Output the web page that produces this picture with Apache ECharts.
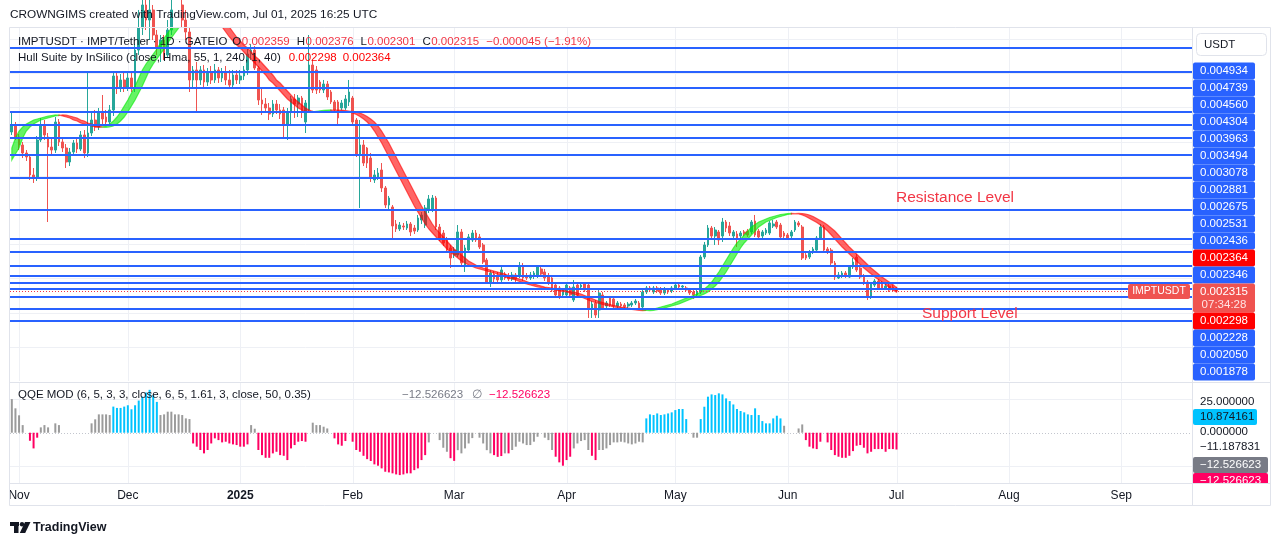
<!DOCTYPE html>
<html>
<head>
<meta charset="utf-8">
<title>IMPTUSDT · 1D · GATEIO</title>
<script src="https://cdn.jsdelivr.net/npm/echarts@6/dist/echarts.min.js"></script>
<style>
  html, body { margin: 0; padding: 0; background: #ffffff; }
  #chart { width: 1281px; height: 546px; }
</style>
</head>
<body>
<div id="chart"></div>
<script>
// daily categories from Oct 30 2024 to Sep 20 2025 (the time scale runs past the last candle)
const firstDay = Date.UTC(2024, 9, 30);
const dates = [];
for (let k = 0; k < 326; k++) {
  dates.push(new Date(firstDay + k * 86400000).toISOString().slice(0, 10));
}
const monthTicks = ['2024-11-01', '2024-12-01', '2025-01-01', '2025-02-01', '2025-03-01', '2025-04-01',
  '2025-05-01', '2025-06-01', '2025-07-01', '2025-08-01', '2025-09-01'];
const monthLabels = ['Nov', 'Dec', '2025', 'Feb', 'Mar', 'Apr', 'May', 'Jun', 'Jul', 'Aug', 'Sep'];

// IMPTUSDT daily candles, Oct 30 2024 .. Jul 01 2025
const opens = [
  0.004641, 0.004729, 0.004568, 0.004451, 0.004334, 0.004275, 0.004012, 0.003968, 0.004524, 0.004743,
  0.004568, 0.004421, 0.004377, 0.004787, 0.004495, 0.004407, 0.004202, 0.004348, 0.004480, 0.004392,
  0.004597, 0.004334, 0.004626, 0.004816, 0.004714, 0.004919, 0.004860, 0.004787, 0.004963, 0.005460,
  0.005285, 0.005402, 0.005299, 0.005431, 0.005285, 0.005840, 0.006162, 0.006499, 0.006279, 0.006426,
  0.006060, 0.005870, 0.005987, 0.005767, 0.006133, 0.006426, 0.006353, 0.006499, 0.006279, 0.006104,
  0.005402, 0.005548, 0.005402, 0.005548, 0.005372, 0.005519, 0.005402, 0.005548, 0.005431, 0.005519,
  0.005402, 0.005328, 0.005475, 0.005402, 0.005460, 0.005548, 0.005782, 0.005840, 0.005577, 0.005109,
  0.005050, 0.004992, 0.004904, 0.005050, 0.004963, 0.004963, 0.004758, 0.004933, 0.005124, 0.005050,
  0.005138, 0.004787, 0.004963, 0.005621, 0.005548, 0.005372, 0.005255, 0.005343, 0.005226, 0.005080,
  0.005080, 0.004992, 0.004992, 0.005080, 0.005138, 0.004816, 0.004304, 0.004451, 0.004407, 0.004260,
  0.003939, 0.003968, 0.004085, 0.003822, 0.003573, 0.003544, 0.003295, 0.003222, 0.003266, 0.003236,
  0.003295, 0.003236, 0.003207, 0.003353, 0.003280, 0.003500, 0.003514, 0.003675, 0.003251, 0.003163,
  0.003061, 0.002944, 0.002841, 0.002841, 0.003178, 0.002695, 0.002914, 0.003061, 0.003163, 0.003105,
  0.002988, 0.002768, 0.002446, 0.002563, 0.002549, 0.002476, 0.002563, 0.002534, 0.002490, 0.002549,
  0.002534, 0.002680, 0.002534, 0.002505, 0.002534, 0.002534, 0.002637, 0.002593, 0.002534, 0.002505,
  0.002402, 0.002359, 0.002256, 0.002256, 0.002359, 0.002183, 0.002402, 0.002373, 0.002417, 0.002402,
  0.002066, 0.002139, 0.002037, 0.002256, 0.002095, 0.002212, 0.002198, 0.002095, 0.002124, 0.002110,
  0.002095, 0.002110, 0.002139, 0.002139, 0.002081, 0.002300, 0.002359, 0.002300, 0.002359, 0.002344,
  0.002285, 0.002329, 0.002315, 0.002359, 0.002402, 0.002373, 0.002359, 0.002329, 0.002300, 0.002256,
  0.002300, 0.002812, 0.002988, 0.003236, 0.003119, 0.003178, 0.003119, 0.003324, 0.003266, 0.003119,
  0.003149, 0.003119, 0.003178, 0.003192, 0.003178, 0.003339, 0.003192, 0.003119, 0.003163, 0.003163,
  0.003266, 0.003324, 0.003280, 0.003163, 0.003134, 0.003119, 0.003207, 0.003310, 0.003251, 0.002841,
  0.002812, 0.002885, 0.002914, 0.003090, 0.003251, 0.002929, 0.002914, 0.002724, 0.002505, 0.002534,
  0.002578, 0.002519, 0.002666, 0.002812, 0.002651, 0.002534, 0.002446, 0.002227, 0.002402, 0.002461,
  0.002432, 0.002359, 0.002388, 0.002373, 0.002359
];
const closes = [
  0.004743, 0.004568, 0.004451, 0.004334, 0.004275, 0.004012, 0.003968, 0.004524, 0.004743, 0.004597,
  0.004421, 0.004377, 0.004787, 0.004495, 0.004407, 0.004202, 0.004348, 0.004480, 0.004392, 0.004597,
  0.004334, 0.004626, 0.004816, 0.004714, 0.004919, 0.004831, 0.004787, 0.004963, 0.005460, 0.005285,
  0.005402, 0.005299, 0.005431, 0.005285, 0.005840, 0.006162, 0.006499, 0.006279, 0.006426, 0.006060,
  0.005870, 0.005987, 0.005767, 0.006133, 0.006426, 0.006353, 0.006499, 0.006279, 0.006104, 0.005402,
  0.005548, 0.005402, 0.005548, 0.005372, 0.005519, 0.005402, 0.005548, 0.005431, 0.005519, 0.005402,
  0.005328, 0.005475, 0.005402, 0.005460, 0.005548, 0.005782, 0.005840, 0.005577, 0.005109, 0.005050,
  0.004992, 0.004904, 0.005050, 0.004963, 0.004904, 0.004758, 0.004933, 0.005124, 0.005050, 0.005138,
  0.004933, 0.005065, 0.005621, 0.005255, 0.005255, 0.005255, 0.005343, 0.005153, 0.005080, 0.004963,
  0.004846, 0.005065, 0.005124, 0.005226, 0.004787, 0.004304, 0.004451, 0.004187, 0.004187, 0.003968,
  0.004012, 0.004041, 0.003822, 0.003573, 0.003675, 0.003266, 0.003222, 0.003280, 0.003251, 0.003295,
  0.003178, 0.003192, 0.003383, 0.003427, 0.003529, 0.003661, 0.003675, 0.003251, 0.003090, 0.003017,
  0.002914, 0.002797, 0.002914, 0.003178, 0.002724, 0.002944, 0.003105, 0.003163, 0.003061, 0.002958,
  0.002739, 0.002446, 0.002578, 0.002490, 0.002476, 0.002622, 0.002505, 0.002490, 0.002549, 0.002490,
  0.002680, 0.002505, 0.002505, 0.002549, 0.002578, 0.002666, 0.002563, 0.002505, 0.002432, 0.002329,
  0.002256, 0.002227, 0.002329, 0.002402, 0.002256, 0.002373, 0.002256, 0.002402, 0.002329, 0.002066,
  0.002124, 0.001964, 0.002285, 0.002066, 0.002139, 0.002110, 0.002095, 0.002139, 0.002095, 0.002081,
  0.002124, 0.002139, 0.002168, 0.002066, 0.002300, 0.002359, 0.002329, 0.002359, 0.002315, 0.002285,
  0.002344, 0.002300, 0.002359, 0.002402, 0.002373, 0.002388, 0.002329, 0.002285, 0.002256, 0.002300,
  0.002812, 0.002988, 0.003236, 0.003119, 0.003207, 0.003061, 0.003324, 0.003236, 0.003163, 0.003178,
  0.003090, 0.003163, 0.003149, 0.003134, 0.003324, 0.003134, 0.003105, 0.003178, 0.003207, 0.003310,
  0.003295, 0.003251, 0.003105, 0.003119, 0.003090, 0.003178, 0.003324, 0.003280, 0.002797, 0.002797,
  0.002885, 0.002929, 0.003090, 0.003251, 0.002914, 0.002885, 0.002724, 0.002519, 0.002549, 0.002578,
  0.002534, 0.002666, 0.002739, 0.002622, 0.002519, 0.002432, 0.002227, 0.002417, 0.002461, 0.002359,
  0.002359, 0.002388, 0.002329, 0.002360, 0.002315
];
const lows = [
  0.004597, 0.004524, 0.004377, 0.004260, 0.004217, 0.003939, 0.003895, 0.003924, 0.004495, 0.004524,
  0.003324, 0.004290, 0.004334, 0.004436, 0.004348, 0.004114, 0.004143, 0.004290, 0.004334, 0.004363,
  0.004260, 0.004275, 0.004582, 0.004655, 0.004670, 0.004758, 0.004729, 0.004743, 0.004875, 0.005197,
  0.005226, 0.005226, 0.005241, 0.005226, 0.005226, 0.005767, 0.006060, 0.006133, 0.005987, 0.005987,
  0.005767, 0.005665, 0.005694, 0.005723, 0.006060, 0.006250, 0.006279, 0.006162, 0.005987, 0.005226,
  0.005285, 0.004919, 0.005328, 0.005285, 0.005314, 0.005343, 0.005358, 0.005358, 0.005372, 0.005328,
  0.005285, 0.005285, 0.005343, 0.005343, 0.005402, 0.005475, 0.005694, 0.005548, 0.005036, 0.004890,
  0.004919, 0.004816, 0.004860, 0.004904, 0.004831, 0.004553, 0.004524, 0.004743, 0.004846, 0.004860,
  0.004846, 0.004626, 0.004919, 0.005211, 0.005197, 0.005211, 0.005211, 0.005109, 0.005050, 0.004919,
  0.004743, 0.004963, 0.004963, 0.005021, 0.004743, 0.004275, 0.003529, 0.004143, 0.004114, 0.003909,
  0.003895, 0.003939, 0.003763, 0.003529, 0.003500, 0.003090, 0.003178, 0.003192, 0.003207, 0.003207,
  0.003119, 0.003149, 0.003178, 0.003295, 0.003236, 0.003456, 0.003470, 0.003207, 0.003046, 0.002973,
  0.002871, 0.002651, 0.002797, 0.002812, 0.002695, 0.002593, 0.002885, 0.003032, 0.003032, 0.002929,
  0.002710, 0.002417, 0.002373, 0.002446, 0.002446, 0.002446, 0.002476, 0.002461, 0.002461, 0.002446,
  0.002505, 0.002461, 0.002476, 0.002476, 0.002490, 0.002505, 0.002534, 0.002461, 0.002402, 0.002300,
  0.002227, 0.002198, 0.002227, 0.002227, 0.002227, 0.002154, 0.002227, 0.002344, 0.002300, 0.001920,
  0.001920, 0.001920, 0.001920, 0.002037, 0.002066, 0.002081, 0.002066, 0.002066, 0.002081, 0.002066,
  0.002066, 0.002081, 0.002110, 0.002051, 0.002051, 0.002271, 0.002300, 0.002271, 0.002285, 0.002256,
  0.002256, 0.002271, 0.002285, 0.002329, 0.002344, 0.002344, 0.002300, 0.002256, 0.002198, 0.002242,
  0.002271, 0.002783, 0.002958, 0.003090, 0.002988, 0.002988, 0.003032, 0.003178, 0.003119, 0.003090,
  0.002958, 0.003075, 0.003119, 0.003105, 0.003149, 0.003105, 0.003075, 0.003090, 0.003134, 0.003134,
  0.003236, 0.003222, 0.003061, 0.003075, 0.003061, 0.003090, 0.003178, 0.003251, 0.002768, 0.002768,
  0.002783, 0.002856, 0.002885, 0.003061, 0.002885, 0.002856, 0.002680, 0.002476, 0.002490, 0.002505,
  0.002505, 0.002505, 0.002637, 0.002593, 0.002490, 0.002402, 0.002183, 0.002198, 0.002373, 0.002344,
  0.002329, 0.002329, 0.002300, 0.002315, 0.002301
];
const highs = [
  0.004919, 0.004787, 0.004612, 0.004495, 0.004377, 0.004304, 0.004114, 0.004582, 0.004846, 0.004816,
  0.004626, 0.004553, 0.004860, 0.004831, 0.004553, 0.004465, 0.004407, 0.004524, 0.004553, 0.004655,
  0.004670, 0.005504, 0.004919, 0.004963, 0.004992, 0.005182, 0.004963, 0.005036, 0.005504, 0.005519,
  0.005489, 0.005519, 0.005519, 0.005519, 0.005928, 0.006426, 0.006718, 0.006645, 0.006572, 0.006499,
  0.006133, 0.006060, 0.006060, 0.006279, 0.006572, 0.006645, 0.006718, 0.006645, 0.006426, 0.006162,
  0.005606, 0.005665, 0.005606, 0.005621, 0.005577, 0.005606, 0.005636, 0.005592, 0.005577, 0.005606,
  0.005548, 0.005548, 0.005548, 0.005548, 0.005606, 0.005870, 0.005928, 0.005899, 0.005606, 0.005285,
  0.005138, 0.005065, 0.005109, 0.005109, 0.005050, 0.005007, 0.004992, 0.005168, 0.005197, 0.005182,
  0.005168, 0.005109, 0.006060, 0.005694, 0.005606, 0.005402, 0.005402, 0.005387, 0.005255, 0.005109,
  0.005109, 0.005109, 0.005182, 0.005402, 0.005168, 0.004846, 0.004816, 0.004524, 0.004421, 0.004334,
  0.004085, 0.004114, 0.004187, 0.003851, 0.003705, 0.003573, 0.003353, 0.003324, 0.003310, 0.003339,
  0.003324, 0.003280, 0.003427, 0.003470, 0.003573, 0.003719, 0.003719, 0.003705, 0.003295, 0.003207,
  0.003105, 0.002988, 0.002958, 0.003280, 0.003222, 0.002988, 0.003149, 0.003207, 0.003207, 0.003149,
  0.003017, 0.002797, 0.002622, 0.002607, 0.002593, 0.002666, 0.002593, 0.002578, 0.002593, 0.002578,
  0.002739, 0.002724, 0.002578, 0.002593, 0.002607, 0.002695, 0.002680, 0.002637, 0.002578, 0.002534,
  0.002432, 0.002388, 0.002359, 0.002432, 0.002388, 0.002476, 0.002432, 0.002432, 0.002446, 0.002432,
  0.002168, 0.002183, 0.002329, 0.002300, 0.002168, 0.002242, 0.002227, 0.002168, 0.002154, 0.002139,
  0.002154, 0.002168, 0.002198, 0.002168, 0.002329, 0.002388, 0.002388, 0.002388, 0.002388, 0.002373,
  0.002373, 0.002359, 0.002388, 0.002432, 0.002432, 0.002402, 0.002388, 0.002359, 0.002329, 0.002329,
  0.002841, 0.003032, 0.003280, 0.003266, 0.003251, 0.003207, 0.003383, 0.003353, 0.003324, 0.003207,
  0.003192, 0.003192, 0.003207, 0.003222, 0.003353, 0.003427, 0.003222, 0.003207, 0.003236, 0.003339,
  0.003353, 0.003353, 0.003310, 0.003192, 0.003163, 0.003207, 0.003353, 0.003339, 0.003280, 0.002885,
  0.002914, 0.002958, 0.003119, 0.003295, 0.003280, 0.002958, 0.002944, 0.002754, 0.002593, 0.002607,
  0.002607, 0.002695, 0.002797, 0.002856, 0.002695, 0.002563, 0.002476, 0.002446, 0.002490, 0.002490,
  0.002461, 0.002417, 0.002417, 0.002402, 0.002376
];

// Hull Suite (Hma 55) values, Oct 28 2024 .. Jul 01 2025 (two extra leading days for the [2] offset)
const hullValues = [
  0.004231, 0.004319,
  0.004407, 0.004553, 0.004655, 0.004714, 0.004758, 0.004787, 0.004816, 0.004831, 0.004846, 0.004860,
  0.004875, 0.004882, 0.004890, 0.004887, 0.004875, 0.004860, 0.004846, 0.004816, 0.004802, 0.004772,
  0.004758, 0.004743, 0.004729, 0.004714, 0.004710, 0.004714, 0.004729, 0.004758, 0.004802, 0.004860,
  0.004933, 0.005021, 0.005109, 0.005211, 0.005314, 0.005431, 0.005548, 0.005636, 0.005709, 0.005782,
  0.005855, 0.005943, 0.006016, 0.006089, 0.006162, 0.006235, 0.006309, 0.006367, 0.006426, 0.006470,
  0.006499, 0.006513, 0.006506, 0.006499, 0.006470, 0.006426, 0.006353, 0.006265, 0.006177, 0.006104,
  0.006031, 0.005972, 0.005914, 0.005870, 0.005811, 0.005753, 0.005709, 0.005650, 0.005592, 0.005533,
  0.005475, 0.005402, 0.005358, 0.005299, 0.005241, 0.005182, 0.005124, 0.005080, 0.005036, 0.004992,
  0.004963, 0.004941, 0.004933, 0.004936, 0.004944, 0.004951, 0.004957, 0.004961, 0.004963, 0.004961,
  0.004955, 0.004948, 0.004941, 0.004933, 0.004919, 0.004897, 0.004868, 0.004831, 0.004787, 0.004729,
  0.004655, 0.004568, 0.004480, 0.004377, 0.004275, 0.004173, 0.004070, 0.003968, 0.003866, 0.003763,
  0.003661, 0.003558, 0.003470, 0.003383, 0.003295, 0.003222, 0.003163, 0.003105, 0.003046, 0.002988,
  0.002929, 0.002885, 0.002841, 0.002797, 0.002754, 0.002724, 0.002695, 0.002673, 0.002651, 0.002637,
  0.002622, 0.002607, 0.002593, 0.002578, 0.002563, 0.002541, 0.002519, 0.002505, 0.002490, 0.002476,
  0.002454, 0.002432, 0.002417, 0.002402, 0.002388, 0.002373, 0.002366, 0.002359, 0.002344, 0.002337,
  0.002329, 0.002315, 0.002307, 0.002300, 0.002285, 0.002271, 0.002249, 0.002227, 0.002205, 0.002183,
  0.002161, 0.002147, 0.002132, 0.002117, 0.002103, 0.002095, 0.002081, 0.002073, 0.002066, 0.002059,
  0.002051, 0.002044, 0.002037, 0.002032, 0.002029, 0.002032, 0.002040, 0.002051, 0.002066, 0.002081,
  0.002095, 0.002110, 0.002124, 0.002147, 0.002168, 0.002190, 0.002212, 0.002227, 0.002249, 0.002271,
  0.002300, 0.002344, 0.002388, 0.002446, 0.002519, 0.002593, 0.002680, 0.002768, 0.002856, 0.002944,
  0.003017, 0.003075, 0.003134, 0.003192, 0.003251, 0.003288, 0.003324, 0.003346, 0.003368, 0.003390,
  0.003405, 0.003419, 0.003434, 0.003441, 0.003447, 0.003449, 0.003447, 0.003441, 0.003427, 0.003405,
  0.003375, 0.003346, 0.003317, 0.003280, 0.003236, 0.003192, 0.003134, 0.003075, 0.003017, 0.002958,
  0.002907, 0.002856, 0.002805, 0.002754, 0.002702, 0.002651, 0.002607, 0.002563, 0.002519, 0.002483,
  0.002446, 0.002410, 0.002364, 0.002330, 0.002298
];

// horizontal support / resistance levels drawn on the chart
const labeledLevels = [0.004934, 0.004739, 0.004560, 0.004304, 0.003963, 0.003494, 0.003078, 0.002881,
  0.002675, 0.002531, 0.002436, 0.002346, 0.002228, 0.002050, 0.001878];
const unlabeledLevels = [0.005870, 0.005519, 0.005285];
const priceGridLevels = [0.0010, 0.0015, 0.0020, 0.0025, 0.0030, 0.0035, 0.0040, 0.0045, 0.0050, 0.0055, 0.0060];

// QQE MOD histogram, one value per candle (null = no bar)
const qqeValues = [
  25.1, 18.2, 13, 5.7, null, -6, -11.7, -3.7, 4, 5.7,
  4, null, 7, 5.7, null, null, null, null, null, null,
  null, null, 7, 10, 13.7, 13.7, 13.7, 13.2, 19.5, 18.5,
  18.5, 19.5, 20.5, 17.5, 20.5, 24, 27, 30, 32, 28,
  23, 13.2, 13.7, 15.7, 15.7, 13.7, 13.7, 13.2, 10.7, 10.2,
  -8, -10.4, -12.9, -15.4, -12.9, -8, -4.2, -5.5, -7.2, -6.7,
  -8, -8.7, -9.2, -10.4, -10.4, -8.7, 5.7, 3, -12.9, -16.7,
  -18.7, -18.7, -15.4, -14.2, -16.7, -17.2, -20.4, -11.7, -9.2, -6.7,
  -6.2, -6.7, null, 7.5, 5.7, 5.7, 4.5, 3.2, null, -4.2,
  -8.7, -9.7, -6.2, null, -6.7, -12.9, -14.2, -17.2, -19.7, -21.1,
  -23.6, -24.6, -26.6, -29.1, -29.6, -30.3, -31.1, -31.6, -31.1, -30.3,
  -30.3, -27.9, -26.6, -20.4, -16.7, -7.2, null, null, -5.5, -11.2,
  -14.2, -19, -21, -13, -15.4, -11.7, -8, -4, null, -3.7,
  -8, -13, -15.4, -16.7, -18, -17.4, -15.4, -15.4, -12.9, -10.4,
  -6.7, -8, -9.2, -9.2, -6.7, -3, null, -3.7, -5.5, -12.9,
  -17.9, -22.1, -24.6, -20.4, -17.9, -11.7, -8, -6.2, -5.5, -12.9,
  -17.2, -20.4, -12.9, -12.9, -11.7, -9.2, -7.2, -7.2, -6.7, -7.2,
  -8, -8.7, -8, -6.7, -7.2, 10.7, 13.7, 13.2, 14.4, 13.2,
  13.7, 14.4, 15.2, 16.9, 17.7, 17.7, 10.2, null, -3.7, -3.7,
  10.2, 19.4, 26.9, 28.6, 28.1, 29.4, 28.6, 25.6, 23.6, 21.1,
  17.7, 16.2, 15.2, 13.7, 13.2, 18.2, 13.2, 8.7, 7, 7,
  10.7, 12.7, 10.7, 5.2, null, null, null, 3.2, 6.2, -5.5,
  -10.4, -11.7, -12.2, -6.7, null, -7.2, -12.9, -16.7, -17.9, -18.7,
  -18.7, -17.2, -13.7, -9.7, -9.2, -11.2, -15.4, -14.2, -12.2, -12.2,
  -12.2, -14.2, -12.2, -12.2, -12.526623
];
// QQE bar state changes: [first candle index, state] (g = neutral, b = bullish, p = bearish)
const qqeStateRuns = [[0, 'g'], [5, 'p'], [8, 'g'], [28, 'b'], [41, 'g'], [50, 'p'], [66, 'g'], [68, 'p'],
  [82, 'g'], [89, 'p'], [115, 'g'], [121, 'p'], [123, 'g'], [133, 'p'], [136, 'g'], [137, 'p'], [138, 'g'],
  [150, 'p'], [155, 'g'], [160, 'p'], [162, 'g'], [175, 'b'], [187, 'g'], [190, 'b'], [213, 'g'], [219, 'p']];
const qqeUpper = 10.874161;
const qqeLower = -11.187831;
const qqeGridLevels = [25, -25];

// ---------------------------------------------------------------------------
const FONT = '"Liberation Sans", Arial, sans-serif';
const FS = 11.5;          // legend / scale text size
const TEXT = '#131722';
const RED = '#f23645';
const BLUE = '#2962ff';
const QQE_COLORS = { g: '#9b9b9b', b: '#00c3ff', p: '#ff0062' };
const last = closes.length - 1;
const minus = '\u2212';
const fmt = v => (v < 0 ? minus : '') + Math.abs(v).toFixed(6);

const candleData = closes.map((c, k) => [opens[k], c, lows[k], highs[k]]);

function qqeStateAt(k) {
  let s = 'g';
  for (const r of qqeStateRuns) { if (r[0] <= k) s = r[1]; }
  return s;
}
const qqeData = qqeValues.map((v, k) => v === null ? '-' : { value: v, itemStyle: { color: QQE_COLORS[qqeStateAt(k)] } });

const monthIdx = monthTicks.map(d => dates.indexOf(d));

function vGridLine(params, api) {
  const x = Math.round(api.coord([api.value(0), 0])[0]) + 0.5;
  const cs = params.coordSys;
  return { type: 'line', silent: true, shape: { x1: x, y1: cs.y, x2: x, y2: cs.y + cs.height },
    style: { stroke: '#eef0f5', lineWidth: 1 } };
}
function hGridLine(params, api) {
  const y = Math.round(api.coord([0, api.value(1)])[1]) + 0.5;
  const cs = params.coordSys;
  const dotted = api.value(2) === 1;
  return { type: 'line', silent: true, shape: { x1: cs.x, y1: y, x2: cs.x + cs.width, y2: y },
    style: { stroke: dotted ? '#c3c6ce' : '#eef0f5', lineWidth: 1, lineDash: dotted ? [1, 2] : null } };
}
// drawn horizontal levels (kind 0) and the dotted last-price line (kind 1)
function levelLine(params, api) {
  const y = Math.round(api.coord([0, api.value(1)])[1]);
  const cs = params.coordSys;
  if (api.value(2) === 1) {
    return { type: 'line', silent: true, shape: { x1: cs.x, y1: y + 0.5, x2: cs.x + cs.width, y2: y + 0.5 },
      style: { stroke: RED, lineWidth: 1, lineDash: [1, 2] } };
  }
  return { type: 'line', silent: true, shape: { x1: cs.x, y1: y, x2: cs.x + cs.width, y2: y },
    style: { stroke: BLUE, lineWidth: 2 } };
}

// Hull band: fill between HULL and HULL[2], green while rising, red while falling
function renderHull(params, api) {
  const n = closes.length;
  const rising = k => hullValues[k + 2] > hullValues[k];
  const children = [];
  let a = 0;
  for (let s = 0; s < n - 1; s++) {
    if (s === n - 2 || rising(s + 2) !== rising(s + 1)) {
      const pts = [];
      for (let j = a; j <= s + 1; j++) pts.push(api.coord([j, hullValues[j + 2]]));
      for (let j = s + 1; j >= a; j--) pts.push(api.coord([j, hullValues[j]]));
      const col = rising(s + 1) ? 'rgba(0, 235, 0, 0.6)' : 'rgba(255, 0, 0, 0.6)';
      children.push({ type: 'polygon', shape: { points: pts }, style: { fill: col, stroke: col, lineWidth: 1.2 } });
      a = s + 1;
    }
  }
  return { type: 'group', children: children };
}

// ---------------------------------------------------------------------------
const g = [];
const measureCtx = document.createElement('canvas').getContext('2d');
function textWidth(str, size) {
  measureCtx.font = size + 'px ' + FONT;
  return measureCtx.measureText(str).width;
}
function text(x, y, str, fill, size, opt) {
  opt = opt || {};
  g.push({ type: 'text', x: x, y: y, z: opt.z || 60, silent: true,
    style: { text: str, fill: fill, font: (opt.weight || 'normal') + ' ' + size + 'px ' + FONT,
      textAlign: opt.align || 'left', textVerticalAlign: 'middle' } });
}
// pieces of one legend row placed one after another: [text, colour, gap after]
function textRun(x, y, parts) {
  parts.forEach(p => {
    text(x, y, p[0], p[1], FS);
    x += textWidth(p[0], FS) + (p[2] || 0);
  });
}
function rect(x, y, w, h, fill, opt) {
  opt = opt || {};
  g.push({ type: 'rect', z: opt.z || 55, silent: true, shape: { x: x, y: y, width: w, height: h, r: opt.r || 0 },
    style: { fill: fill, stroke: opt.stroke || null, lineWidth: 1 } });
}
function line(x1, y1, x2, y2, color, z) {
  g.push({ type: 'line', z: z || 50, silent: true, shape: { x1: x1, y1: y1, x2: x2, y2: y2 },
    style: { stroke: color, lineWidth: 1 } });
}

// header
text(10, 15, 'CROWNGIMS created with TradingView.com, Jul 01, 2025 16:25 UTC', TEXT, 11.8);

// frame and pane separators
g.push({ type: 'rect', z: 50, silent: true, shape: { x: 9.5, y: 27.5, width: 1261, height: 478 },
  style: { fill: 'rgba(0,0,0,0)', stroke: '#e0e3eb', lineWidth: 1 } });
line(10, 382.5, 1270, 382.5, '#e0e3eb');
line(10, 483.5, 1270, 483.5, '#e0e3eb');
line(1192.5, 28, 1192.5, 505, '#e0e3eb');

// legend of main pane
const chg = closes[last] - closes[last - 1];
textRun(18, 42, [
  ['IMPTUSDT \u00b7 IMPT/Tether \u00b7 1D \u00b7 GATEIO', TEXT, 5],
  ['O', TEXT, 0.5], [fmt(opens[last]), RED, 7],
  ['H', TEXT, 0.5], [fmt(highs[last]), RED, 7],
  ['L', TEXT, 0.5], [fmt(lows[last]), RED, 7],
  ['C', TEXT, 0.5], [fmt(closes[last]), RED, 7],
  [fmt(chg) + ' (' + minus + Math.abs(chg / closes[last - 1] * 100).toFixed(2) + '%)', RED, 0]
]);
textRun(18, 58, [
  ['Hull Suite by InSilico (close, Hma, 55, 1, 240, 1, 40)', TEXT, 8],
  [fmt(hullValues[hullValues.length - 1]), '#ff0000', 6],
  [fmt(hullValues[hullValues.length - 3]), '#ff0000', 0]
]);

// drawings
text(896, 198, 'Resistance Level', RED, 15.5);
text(922, 314, 'Support Level', RED, 15.5);

// QQE legend
text(18, 395, 'QQE MOD (6, 5, 3, 3, close, 6, 5, 1.61, 3, close, 50, 0.35)', TEXT, FS);
text(402, 395, fmt(qqeValues[last]), '#787b86', FS);
text(472, 395, '\u2205', '#787b86', FS);
text(489, 395, fmt(qqeValues[last]), '#ff0062', FS);

// price scale: currency button and stacked labels
rect(1196.5, 33.5, 70, 22, '#ffffff', { stroke: '#e0e3eb', r: 4 });
text(1204, 44.5, 'USDT', TEXT, FS);

const badges = labeledLevels.map(v => ({ v: v, kind: 'line' }));
badges.push({ v: hullValues[hullValues.length - 1], kind: 'hull' });
badges.push({ v: hullValues[hullValues.length - 3], kind: 'hull' });
badges.push({ v: closes[last], kind: 'last' });
badges.sort((p, q) => q.v - p.v);
let badgeTop = 62.5;
badges.forEach(b => {
  if (b.kind === 'last') {
    rect(1193, badgeTop, 62, 29, '#ef5350', { r: 2 });
    text(1224, badgeTop + 8, fmt(b.v), '#ffffff', FS, { align: 'center', z: 61 });
    text(1224, badgeTop + 21.5, '07:34:28', '#ffe3e3', FS, { align: 'center', z: 61 });
    rect(1128, badgeTop + 0.5, 62, 15, '#ef5350', { r: 2 });
    text(1159, badgeTop + 8, 'IMPTUSDT', '#ffffff', 10.5, { align: 'center', z: 61 });
    badgeTop += 29;
  } else {
    rect(1193, badgeTop, 62, 17, b.kind === 'hull' ? '#ff0000' : BLUE, { r: 2 });
    text(1224, badgeTop + 8.5, fmt(b.v), '#ffffff', FS, { align: 'center', z: 61 });
    badgeTop += 17;
  }
});

// QQE scale
text(1200, 402, '25.000000', TEXT, FS);
rect(1193, 409, 64, 16, '#00c3ff', { r: 2 });
text(1200, 417, fmt(qqeUpper), TEXT, FS, { z: 61 });
text(1200, 432, '0.000000', TEXT, FS);
text(1200, 447, fmt(qqeLower), TEXT, FS);
rect(1193, 457, 75, 16, '#787b86', { r: 2 });
text(1200, 465, fmt(qqeValues[last]), '#ffffff', FS, { z: 61 });
rect(1193, 473, 75, 16, '#ff0062', { r: 2 });
text(1200, 481, fmt(qqeValues[last]), '#ffffff', FS, { z: 61 });
rect(1193, 484, 77, 21, '#ffffff', { z: 70 });
line(1192.5, 484, 1192.5, 505, '#e0e3eb', 71);
line(1193, 483.5, 1270, 483.5, '#e0e3eb', 71);
line(1270.5, 484, 1270.5, 505, '#e0e3eb', 71);
line(1193, 505.5, 1270, 505.5, '#e0e3eb', 71);

// footer logo
rect(10, 522, 9, 4, TEXT, { z: 60 });
rect(14, 522, 4.5, 11, TEXT, { z: 60 });
g.push({ type: 'circle', z: 60, silent: true, shape: { cx: 22, cy: 524.2, r: 2.2 }, style: { fill: TEXT } });
g.push({ type: 'polygon', z: 60, silent: true, shape: { points: [[25, 522], [30.5, 522], [25.2, 533], [19.8, 533]] }, style: { fill: TEXT } });
text(33, 528, 'TradingView', TEXT, 12.5, { weight: 'bold' });

// ---------------------------------------------------------------------------
const chart = echarts.init(document.getElementById('chart'), null, { renderer: 'canvas' });
chart.setOption({
  animation: false,
  backgroundColor: '#ffffff',
  textStyle: { fontFamily: FONT },
  grid: [
    { left: 10, top: 27, width: 1182, height: 354 },
    { left: 10, top: 383, width: 1182, height: 100 }
  ],
  xAxis: [
    { type: 'category', gridIndex: 0, data: dates, boundaryGap: true,
      axisLine: { show: false }, axisTick: { show: false }, axisLabel: { show: false }, splitLine: { show: false } },
    { type: 'category', gridIndex: 1, data: dates, boundaryGap: true,
      axisLine: { show: false }, axisTick: { show: false }, splitLine: { show: false },
      axisLabel: {
        show: true, margin: 7, color: TEXT, fontSize: 12, fontFamily: FONT,
        interval: (i, v) => monthTicks.indexOf(v) >= 0,
        formatter: v => { const k = monthTicks.indexOf(v); return k === 2 ? '{y|' + monthLabels[k] + '}' : monthLabels[k]; },
        rich: { y: { fontWeight: 'bold', fontSize: 12, color: TEXT, fontFamily: FONT } }
      } }
  ],
  yAxis: [
    { type: 'value', gridIndex: 0, min: 0.000998, max: 0.006177, show: false, splitLine: { show: false } },
    { type: 'value', gridIndex: 1, min: -37.5, max: 37.1, show: false, splitLine: { show: false } }
  ],
  series: [
    { type: 'custom', name: 'grid-v', xAxisIndex: 0, yAxisIndex: 0, z: 0, silent: true, clip: true,
      renderItem: vGridLine, data: monthIdx.map(i => [i, 0.003]), encode: { x: 0, y: 1 } },
    { type: 'custom', name: 'grid-h', xAxisIndex: 0, yAxisIndex: 0, z: 0, silent: true, clip: true,
      renderItem: hGridLine, data: priceGridLevels.map(v => [0, v, 0]), encode: { x: 0, y: 1 } },
    {
      type: 'candlestick', name: 'IMPTUSDT', xAxisIndex: 0, yAxisIndex: 0, z: 2,
      data: candleData, barWidth: 2.2, clip: true, silent: true,
      itemStyle: { color: '#26a69a', color0: '#ef5350', borderColor: '#26a69a', borderColor0: '#ef5350', borderWidth: 1 }
    },
    { type: 'custom', name: 'Hull Suite', xAxisIndex: 0, yAxisIndex: 0, z: 3, silent: true, clip: true,
      renderItem: renderHull, data: [[0, 0.003]], encode: { x: 0, y: 1 } },
    { type: 'custom', name: 'levels', xAxisIndex: 0, yAxisIndex: 0, z: 5, silent: true, clip: true,
      renderItem: levelLine,
      data: labeledLevels.concat(unlabeledLevels).map(v => [0, v, 0]).concat([[0, closes[last], 1]]),
      encode: { x: 0, y: 1 } },
    { type: 'custom', name: 'qqe-grid-v', xAxisIndex: 1, yAxisIndex: 1, z: 0, silent: true, clip: true,
      renderItem: vGridLine, data: monthIdx.map(i => [i, 0]), encode: { x: 0, y: 1 } },
    { type: 'custom', name: 'qqe-grid-h', xAxisIndex: 1, yAxisIndex: 1, z: 0, silent: true, clip: true,
      renderItem: hGridLine, data: qqeGridLevels.map(v => [0, v, 0]).concat([[0, 0, 1]]), encode: { x: 0, y: 1 } },
    { type: 'bar', name: 'QQE MOD', xAxisIndex: 1, yAxisIndex: 1, z: 2, silent: true,
      barWidth: 2, data: qqeData }
  ],
  graphic: { elements: g }
});
</script>
</body>
</html>
